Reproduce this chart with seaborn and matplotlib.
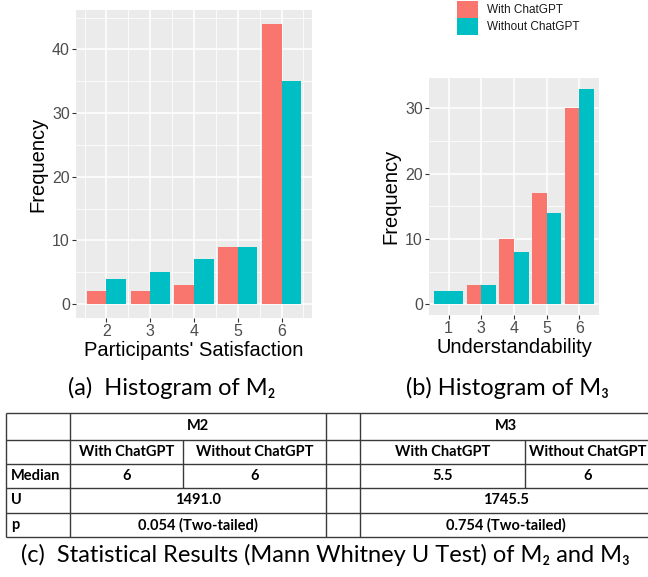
import numpy as np
import pandas as pd
import seaborn as sns
import matplotlib.pyplot as plt
from matplotlib.patches import Patch

# histogram counts
m2_levels = [2, 3, 4, 5, 6]
m2_with = [2, 2, 3, 9, 44]
m2_without = [4, 5, 7, 9, 35]

m3_levels = ["1", "3", "4", "5", "6"]
m3_with = [0, 3, 10, 17, 30]
m3_without = [2, 3, 8, 14, 33]

groups = ["With ChatGPT", "Without ChatGPT"]
colors = ["#F8766D", "#00BFC4"]

# table contents
tbl_metrics = ["M2", "M3"]
tbl_rows = ["Median", "U", "p"]
m2_medians = ["6", "6"]
m3_medians = ["5.5", "6"]
u_values = ["1491.0", "1745.5"]
p_values = ["0.054 (Two-tailed)", "0.754 (Two-tailed)"]


def long_df(levels, a, b):
    df = pd.DataFrame({"level": list(levels) * 2,
                       "count": list(a) + list(b),
                       "group": [groups[0]] * len(levels) + [groups[1]] * len(levels)})
    return df[df["count"] > 0]  # ggplot drops empty groups


df2 = long_df(m2_levels, m2_with, m2_without)
df3 = long_df(m3_levels, m3_with, m3_without)

sns.set_theme(style="darkgrid", rc={
    "axes.facecolor": "#EBEBEB",
    "grid.color": "white",
    "axes.edgecolor": "#EBEBEB",
    "xtick.color": "#333333",
    "ytick.color": "#333333",
})
plt.rcParams["font.family"] = ["Liberation Sans", "DejaVu Sans"]

W, H = 648, 577
fig = plt.figure(figsize=(W / 100, H / 100), dpi=100)


def px_axes(x0, y0, x1, y1, **kw):
    return fig.add_axes([x0 / W, 1 - y1 / H, (x1 - x0) / W, (y1 - y0) / H], **kw)


def gg_style(ax, xlabel):
    for s in ax.spines.values():
        s.set_visible(False)
    ax.grid(which="major", color="white", linewidth=1.1)
    ax.grid(which="minor", color="white", linewidth=0.55)
    ax.tick_params(which="major", length=3, width=0.8, pad=1.5,
                   labelsize=11.5, labelcolor="#4D4D4D", left=True, bottom=True)
    ax.tick_params(which="minor", length=0)
    ax.set_xlabel(xlabel, fontsize=14.5, color="black", labelpad=1)
    ax.set_ylabel("Frequency", fontsize=14.5, color="black", labelpad=3)
    ax.set_axisbelow(True)


# (a) M2 - continuous x axis
ax1 = px_axes(76, 10, 312, 318)
sns.barplot(data=df2, x="level", y="count", hue="group", hue_order=groups,
            palette=colors, saturation=1, native_scale=True, width=0.9,
            linewidth=0, legend=False, ax=ax1)
ax1.set_xlim(1.305, 6.695)
ax1.set_ylim(-2.2, 46.2)
ax1.set_xticks(m2_levels)
ax1.set_xticklabels([str(v) for v in m2_levels])
ax1.set_xticks(np.arange(1.5, 7, 1), minor=True)
ax1.set_yticks([0, 10, 20, 30, 40])
ax1.set_yticks([5, 15, 25, 35, 45], minor=True)
gg_style(ax1, "Participants' Satisfaction")

# (b) M3 - discrete x axis
ax2 = px_axes(429, 78, 599, 315)
sns.barplot(data=df3, x="level", y="count", hue="group", hue_order=groups,
            order=m3_levels, palette=colors, saturation=1, width=0.9,
            linewidth=0, legend=False, ax=ax2)
# a level with one group only gets the full dodge width, as in ggplot
single = [i for i, v in enumerate(m3_with) if v == 0]
for bar in ax2.patches:
    i = int(round(bar.get_x() + bar.get_width() / 2))
    if i in single:
        bar.set_x(i - 0.45)
        bar.set_width(0.9)
ax2.set_xlim(-0.6, len(m3_levels) - 0.4)
ax2.set_ylim(-1.65, 34.65)
ax2.set_yticks([0, 10, 20, 30])
ax2.set_yticks([5, 15, 25], minor=True)
gg_style(ax2, "Understandability")

handles = [Patch(facecolor=c, edgecolor="none") for c in colors]
fig.legend(handles, groups, loc="upper left", bbox_to_anchor=(457 / W, 1 - 0.5 / H),
           frameon=False, fontsize=8.5, borderpad=0, borderaxespad=0,
           handlelength=1.78, handleheight=1.9, labelspacing=0,
           handletextpad=0.75, labelcolor="#1A1A1A")

# overlay for captions and the results table
ov = fig.add_axes([0, 0, 1, 1], zorder=-1)
ov.set_axis_off()
ov.set_xlim(0, W)
ov.set_ylim(H, 0)
cap = dict(family=["Lato", "DejaVu Sans"], fontsize=17, color="black",
           ha="center", va="center")
ov.text(172, 388, "(a)  Histogram of M\u2082", **cap)
ov.text(508, 388, "(b) Histogram of M\u2083", **cap)
ov.text(325, 555, "(c)  Statistical Results (Mann Whitney U Test) of M\u2082 and M\u2083", **cap)

ys = [413, 440, 464, 488, 513, 537]
x_left, x_lab, x_mid2, x_gap0, x_gap1, x_mid3, x_right = 6, 70, 183, 326, 360, 525, 651
lc = dict(color="#3A3A3A", linewidth=1.0, solid_capstyle="butt")
for y in ys:
    ov.plot([x_left, x_right], [y, y], **lc)
for x in [x_left, x_lab, x_gap0, x_gap1, x_right]:
    ov.plot([x, x], [ys[0], ys[-1]], **lc)
for x in [x_mid2, x_mid3]:
    ov.plot([x, x], [ys[1], ys[3]], **lc)

tf = dict(family=["Lato", "DejaVu Sans"], fontsize=10.5, fontweight="bold",
          color="black", va="center")
cy = [(ys[i] + ys[i + 1]) / 2 for i in range(5)]
spans = [(x_lab, x_gap0, x_mid2), (x_gap1, x_right, x_mid3)]
medians = [m2_medians, m3_medians]
for k, (a, b, m) in enumerate(spans):
    ov.text((a + b) / 2, cy[0], tbl_metrics[k], ha="center", **tf)
    ov.text((a + m) / 2, cy[1], groups[0], ha="center", **tf)
    ov.text((m + b) / 2, cy[1], groups[1], ha="center", **tf)
    ov.text((a + m) / 2, cy[2], medians[k][0], ha="center", **tf)
    ov.text((m + b) / 2, cy[2], medians[k][1], ha="center", **tf)
    ov.text((a + b) / 2, cy[3], u_values[k], ha="center", **tf)
    ov.text((a + b) / 2, cy[4], p_values[k], ha="center", **tf)
for j, r in enumerate(tbl_rows):
    ov.text(x_left + 5, cy[2 + j], r, ha="left", **tf)

fig.savefig("out.png", dpi=100)
